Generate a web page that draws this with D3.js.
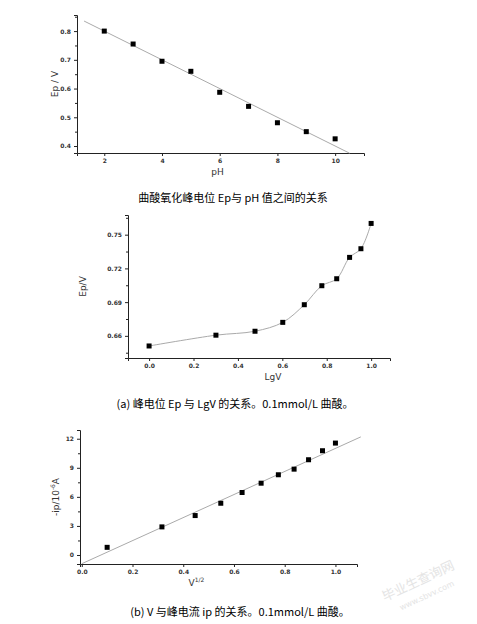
<!DOCTYPE html>
<meta charset="utf-8">
<script src="https://d3js.org/d3.v7.min.js"></script>
<style>
body{margin:0;background:#fff}
text{font-family:"DejaVu Sans",sans-serif}
.cap{font-family:"Noto Sans CJK SC",sans-serif;font-size:11px}
</style>
<svg id="c" width="477" height="624"></svg>
<script>
// chart 1: Ep vs pH
var ph = [2,3,4,5,6,7,8,9,10];
var ep1 = [0.80,0.755,0.695,0.66,0.587,0.538,0.481,0.45,0.425];
var fit1 = [[1.3,0.835],[10.5,0.375]];
// chart 2: Ep vs LgV
var lgv = [0,0.301,0.477,0.602,0.699,0.778,0.845,0.903,0.954,1.0];
var ep2 = [0.651,0.6606,0.6641,0.672,0.6877,0.7046,0.7108,0.7298,0.7375,0.760];
// chart 3: -ip vs V^1/2
var sqv = [0.1,0.316,0.447,0.548,0.632,0.707,0.775,0.837,0.894,0.949,1.0];
var ip = [0.79,2.9,4.07,5.34,6.45,7.41,8.28,8.86,9.83,10.76,11.55];
var fit3 = [[0,-0.9],[1.1,12.19]];

var svg = d3.select("#c");

function panel(o){
  var x = d3.scaleLinear().domain(o.xd).range([o.l,o.r]);
  var y = d3.scaleLinear().domain(o.yd).range([o.b,o.t]);
  var g = svg.append("g");
  g.append("g").attr("transform","translate(0,"+o.b+")")
    .call(d3.axisBottom(x).tickValues(o.xt).tickSize(3).tickFormat(o.xf));
  g.append("g").attr("transform","translate("+o.l+",0)")
    .call(d3.axisLeft(y).tickValues(o.yt).tickSize(3).tickFormat(o.yf));
  // minor ticks on y
  g.append("g").attr("transform","translate("+o.l+",0)")
    .call(d3.axisLeft(y).tickValues(o.ym).tickSize(2).tickFormat(""))
    .select(".domain").remove();
  g.selectAll(".tick text").style("font-size","6px").style("font-weight","bold").attr("fill","#333");
  g.selectAll(".domain,.tick line").attr("stroke","#222");
  if(o.fit){
    g.append("path").datum(o.fit)
      .attr("d",d3.line().x(d=>x(d[0])).y(d=>y(d[1])))
      .attr("stroke","#aaa").attr("fill","none");
  }
  if(o.curve){
    g.append("path").datum(o.xs.map((v,i)=>[v,o.ys[i]]))
      .attr("d",d3.line().curve(d3.curveCatmullRom).x(d=>x(d[0])).y(d=>y(d[1])))
      .attr("stroke","#aaa").attr("fill","none");
  }
  g.selectAll("rect.pt").data(o.xs).enter().append("rect")
    .attr("x",(d)=>x(d)-2.5).attr("y",(d,i)=>y(o.ys[i])-2.5)
    .attr("width",5).attr("height",5).attr("fill","#000");
  g.append("text").attr("x",(o.l+o.r)/2+o.xlx).attr("y",o.b+22).attr("text-anchor","middle")
    .style("font-size","9px").attr("fill","#333").html(o.xl);
  g.append("text").attr("transform","translate("+o.ylx+","+((o.t+o.b)/2)+") rotate(-90)")
    .attr("text-anchor","middle").style("font-size","9px").attr("fill","#333").html(o.yl);
  svg.append("text").attr("class","cap").attr("x",o.cx).attr("y",o.cy)
    .attr("text-anchor","middle").text(o.cap);
}

panel({l:77,r:364,t:15,b:153,xd:[1.055,11.0],yd:[0.3757,0.856],
  xt:[2,4,6,8,10],xf:d3.format("d"),yt:[0.4,0.5,0.6,0.7,0.8],yf:d3.format(".1f"),ym:[0.45,0.55,0.65,0.75,0.85],
  xs:ph,ys:ep1,fit:fit1,xl:"pH",xlx:-3,yl:"Ep / V",ylx:58,
  cap:"曲酸氧化峰电位 Ep与 pH 值之间的关系",cx:233,cy:202});

panel({l:128,r:390,t:215,b:358,xd:[-0.095,1.085],yd:[0.6403,0.7675],
  xt:[0,0.2,0.4,0.6,0.8,1.0],xf:d3.format(".1f"),yt:[0.66,0.69,0.72,0.75],yf:d3.format(".2f"),
  ym:[0.645,0.675,0.705,0.735,0.765],
  xs:lgv,ys:ep2,curve:true,xl:"LgV",xlx:14,yl:"Ep/V",ylx:86,
  cap:"(a) 峰电位 Ep 与 LgV 的关系。0.1mmol/L 曲酸。",cx:235,cy:408});

panel({l:80,r:357,t:430,b:564,xd:[-0.007,1.085],yd:[-0.93,12.9],
  xt:[0,0.2,0.4,0.6,0.8,1.0],xf:d3.format(".1f"),yt:[0,3,6,9,12],yf:d3.format("d"),
  ym:[1.5,4.5,7.5,10.5],
  xs:sqv,ys:ip,fit:fit3,xl:"V<tspan dy='-4' font-size='6'>1/2</tspan>",xlx:-22,
  yl:"-ip/10<tspan dy='-4' font-size='6'>-6</tspan><tspan dy='4'>A</tspan>",ylx:59,
  cap:"(b) V 与峰电流 ip 的关系。0.1mmol/L 曲酸。",cx:240,cy:616});

svg.append("text").attr("transform","translate(420,585) rotate(-25)").attr("text-anchor","middle")
  .style("font-size","13px").style("font-family","Noto Sans CJK SC").attr("fill","#e4e4e4").text("毕业生查询网");
svg.append("text").attr("transform","translate(428,598) rotate(-25)").attr("text-anchor","middle")
  .style("font-size","8px").attr("fill","#e4e4e4").text("www.sbvv.com");
</script>
